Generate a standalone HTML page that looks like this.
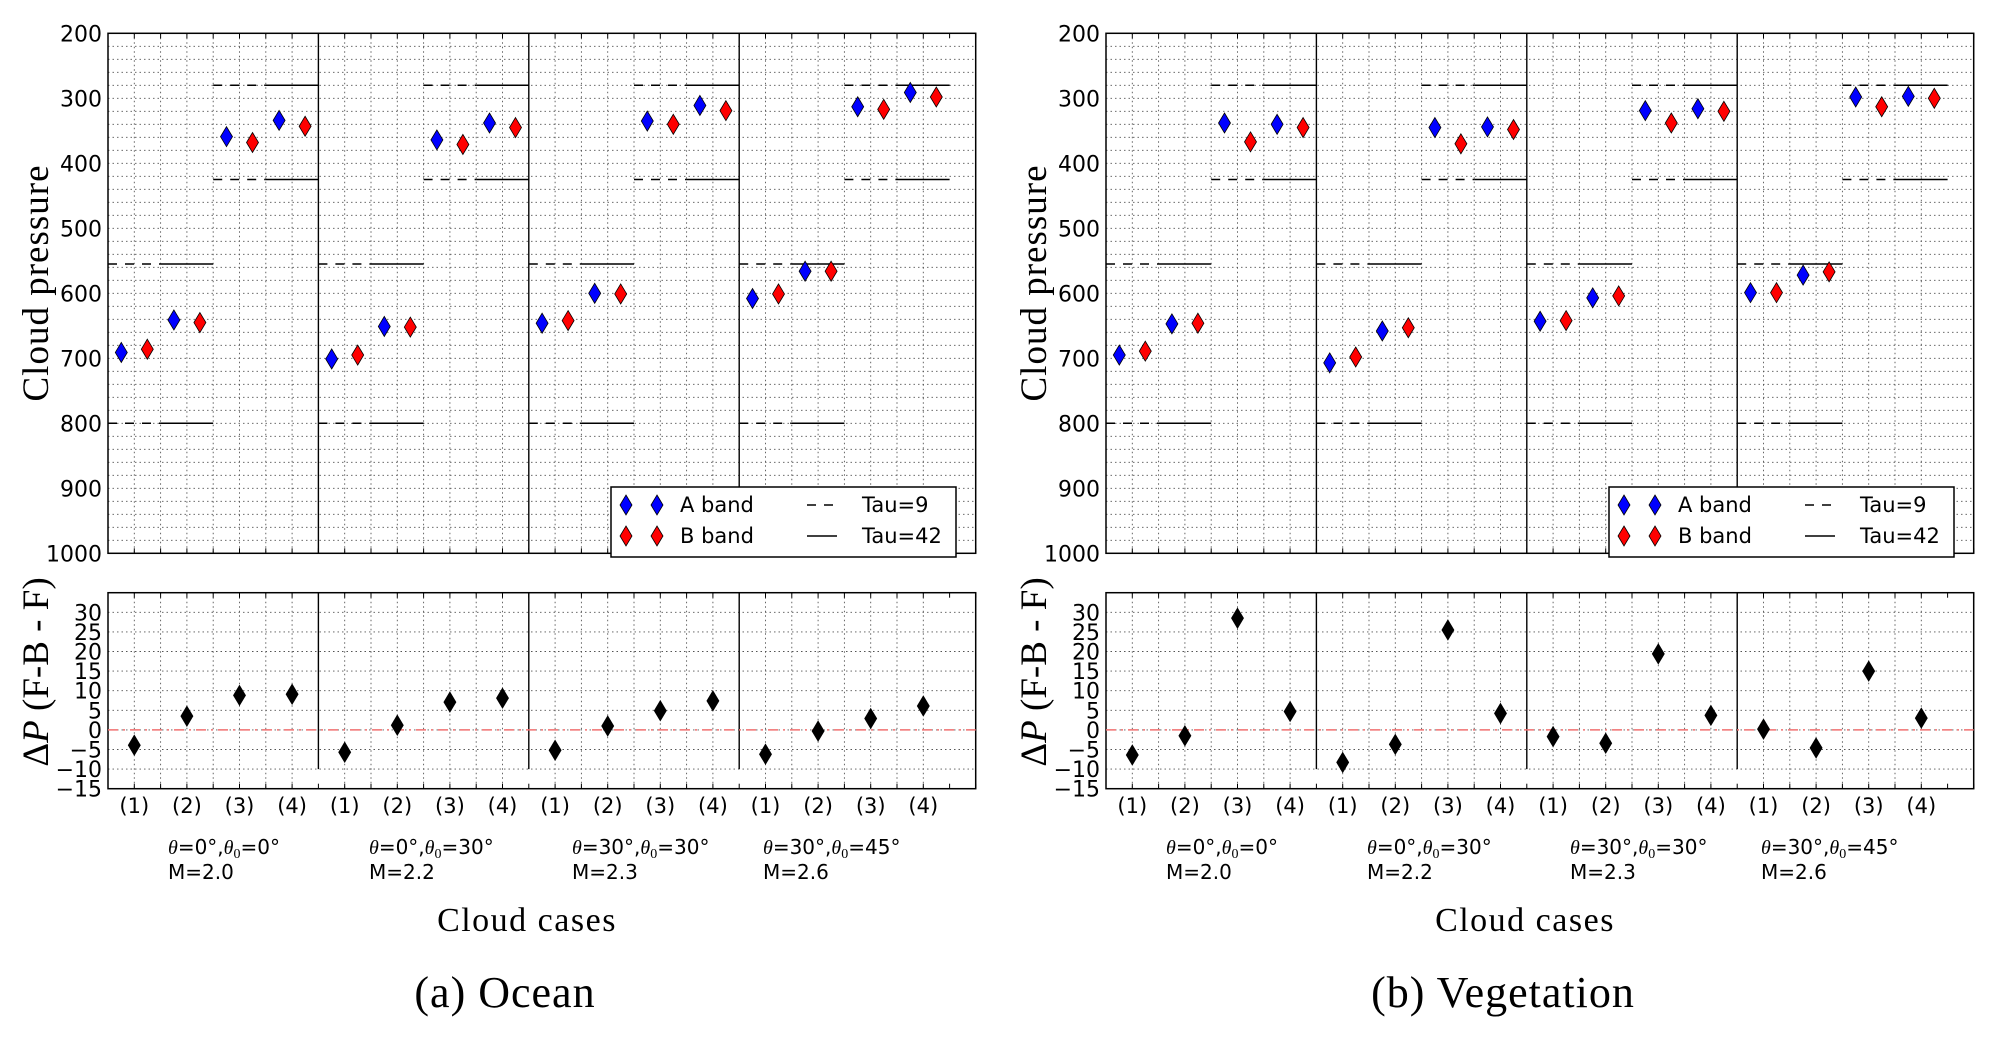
<!DOCTYPE html>
<html><head><meta charset="utf-8"><style>
html,body{margin:0;padding:0;background:#fff;}
svg{display:block;}
text{font-family:"DejaVu Sans","Liberation Sans",sans-serif;}
.serif{font-family:"Liberation Serif","DejaVu Serif",serif;}
</style></head><body>
<svg id="fig" width="1998" height="1037" viewBox="0 0 1998 1037" xmlns="http://www.w3.org/2000/svg"></svg>
<script>
// ---- data ----
const caseLabels = ["(1)","(2)","(3)","(4)"];
const groupTheta = ["0°","0°","30°","30°"];
const groupTheta0 = ["0°","30°","30°","45°"];
const groupLine2 = ["M=2.0","M=2.2","M=2.3","M=2.6"];
const pressureTicks = [200,300,400,500,600,700,800,900,1000];
const deltaTicks = [-15,-10,-5,0,5,10,15,20,25,30];
const tau9 = [555,800,280,425];
const tau42 = [555,800,280,425];
const oceanA = [691,641,359,334, 701,651,364,338, 646,600,335,311, 608,566,313,291];
const oceanB = [686,645,368,343, 695,652,371,345, 642,601,340,319, 601,566,317,298];
const oceanD = [-3.9,3.5,8.8,9.1, -5.7,1.2,7.1,8.1, -5.2,1.0,4.9,7.4, -6.2,-0.3,2.9,6.1];
const vegA = [695,647,338,340, 707,658,345,344, 643,607,319,316, 599,572,298,297];
const vegB = [689,646,367,345, 698,653,370,348, 642,604,338,320, 599,567,313,300];
const vegD = [-6.4,-1.5,28.5,4.7, -8.3,-3.7,25.5,4.2, -1.7,-3.4,19.4,3.7, 0.2,-4.6,15.0,3.0];
const panelTitles = ["(a) Ocean","(b) Vegetation"];

const NS="http://www.w3.org/2000/svg";
const svg=document.getElementById('fig');
function mk(tag,attrs,parent){const e=document.createElementNS(NS,tag);for(const k in attrs)e.setAttribute(k,attrs[k]);(parent||svg).appendChild(e);return e;}

const L=108,R=975.7,XU=52.6;
const TOP1=33.3,BOT1=553.3, TOP2=592.7,BOT2=788.7;
function xs(off,x){return off+L+(x-0.5)*XU;}
function yp(v){return TOP1+(v-200)*(BOT1-TOP1)/800;}
function yd(v){return BOT2-(v+15)*(BOT2-TOP2)/50;}
function diamond(g,cx,cy,fill,name){
  const d=mk('path',{d:`M${cx},${cy-10}L${cx+6},${cy}L${cx},${cy+10}L${cx-6},${cy}Z`,fill:fill,stroke:'#000','stroke-width':0.8},g);
  
  
}

function panel(p,off,A,B,D){
  const g=mk('g',{});
  
  
  const grid=mk('g',{stroke:'#555','stroke-width':0.9,'stroke-dasharray':'1.5,3'},g);
  
  
  for(let v=220;v<1000;v+=20) mk('line',{x1:off+L,x2:off+R,y1:yp(v),y2:yp(v)},grid);
  for(let v=-10;v<35;v+=5) mk('line',{x1:off+L,x2:off+R,y1:yd(v),y2:yd(v)},grid);
  for(let x=1;x<=16.5;x+=0.5){
    if((x-0.5)%4===0) continue;
    mk('line',{x1:xs(off,x),x2:xs(off,x),y1:TOP1,y2:BOT1},grid);
    mk('line',{x1:xs(off,x),x2:xs(off,x),y1:TOP2,y2:BOT2},grid);
  }
  const f1=mk('rect',{x:off+L,y:TOP1,width:R-L,height:BOT1-TOP1,fill:'none',stroke:'#000','stroke-width':1.5},g);
  
  
  const f2=mk('rect',{x:off+L,y:TOP2,width:R-L,height:BOT2-TOP2,fill:'none',stroke:'#000','stroke-width':1.5},g);
  
  
  for(let k=1;k<4;k++){
    const x=xs(off,4*k+0.5);
    const s1=mk('line',{x1:x,x2:x,y1:TOP1,y2:BOT1,stroke:'#000','stroke-width':1.4},g);
    
    
    const s2=mk('line',{x1:x,x2:x,y1:TOP2,y2:yd(-10),stroke:'#000','stroke-width':1.4},g);
    
    
  }
  for(let x=1;x<=17;x+=0.5){
    const X=xs(off,x);
    [[TOP1,5],[BOT1,-5],[TOP2,5],[BOT2,-5]].forEach(([y,d])=>mk('line',{x1:X,x2:X,y1:y,y2:y+d,stroke:'#000','stroke-width':1},g));
  }
  for(let k=0;k<4;k++){
    const b=4*k;
    [[0.5,2.5,0],[2.5,4.5,2]].forEach(([a,c,i])=>{
      [tau9[i],tau9[i+1]].forEach(v=>{
        const l=mk('line',{x1:xs(off,b+a),x2:xs(off,b+a+1),y1:yp(v),y2:yp(v),stroke:'#000','stroke-width':1.5,'stroke-dasharray':'9,8'},g);
        
        
      });
      [tau42[i],tau42[i+1]].forEach(v=>{
        const l=mk('line',{x1:xs(off,b+a+1),x2:xs(off,b+c),y1:yp(v),y2:yp(v),stroke:'#000','stroke-width':1.5},g);
        
        
      });
    });
  }
  const z=mk('line',{x1:off+L,x2:off+R,y1:yd(0),y2:yd(0),stroke:'#f07070','stroke-width':1.5,'stroke-dasharray':'10,5,2,5'},g);
  
  
  for(let i=0;i<16;i++){
    diamond(g,xs(off,i+1)-13,yp(A[i]),'#0000ff','a-band-point');
    diamond(g,xs(off,i+1)+13,yp(B[i]),'#ff0000','b-band-point');
    diamond(g,xs(off,i+1),yd(D[i]),'#000','delta-point');
  }
  pressureTicks.forEach(v=>{
    const t=mk('text',{x:off+102,y:yp(v)+8,'text-anchor':'end','font-size':22},g);t.textContent=v;
    
    
  });
  deltaTicks.forEach(v=>{
    const t=mk('text',{x:off+102,y:yd(v)+8,'text-anchor':'end','font-size':22},g);t.textContent=(v<0?'−':'')+Math.abs(v);
    
    
  });
  for(let i=0;i<16;i++){
    const t=mk('text',{x:xs(off,i+1),y:813,'text-anchor':'middle','font-size':21},g);t.textContent=caseLabels[i%4];
    
    
  }
  const gx=[168,369,572,763];
  for(let k=0;k<4;k++){
    const t1=mk('text',{x:off+gx[k],y:854,'font-size':20},g);
    t1.innerHTML=`<tspan class="serif" font-style="italic">θ</tspan>=${groupTheta[k]},<tspan class="serif" font-style="italic">θ</tspan><tspan font-size="14" dy="4" class="serif">0</tspan><tspan dy="-4">=${groupTheta0[k]}</tspan>`;
    
    
    const t2=mk('text',{x:off+gx[k],y:879,'font-size':20},g);t2.textContent=groupLine2[k];
    
    
  }
  const xl=mk('text',{x:off+527,y:931,'text-anchor':'middle','font-size':34,'letter-spacing':'1.5',class:'serif'},g);xl.textContent='Cloud cases';
  
  
  const yl=mk('text',{x:0,y:0,'text-anchor':'middle','font-size':37,'letter-spacing':'1',class:'serif',transform:`translate(${off+48},283) rotate(-90)`},g);yl.textContent='Cloud pressure';
  
  
  const y2=mk('text',{x:0,y:0,'text-anchor':'middle','font-size':37,class:'serif',transform:`translate(${off+48},672) rotate(-90)`},g);
  y2.innerHTML='Δ<tspan font-style="italic">P</tspan> (F-B - F)';
  
  
  const pt=mk('text',{x:off+505,y:1007,'text-anchor':'middle','font-size':44,'letter-spacing':'1',class:'serif'},g);pt.textContent=panelTitles[p];
  
  
  const lg=mk('g',{},g);
  
  
  mk('rect',{x:off+611,y:487,width:345,height:70,fill:'#fff',stroke:'#000','stroke-width':1.5},lg);
  diamond(lg,off+626,505,'#0000ff','legend-a-marker');diamond(lg,off+657,505,'#0000ff','legend-a-marker');
  diamond(lg,off+626,536,'#ff0000','legend-b-marker');diamond(lg,off+657,536,'#ff0000','legend-b-marker');
  mk('line',{x1:off+807,x2:off+837,y1:505,y2:505,stroke:'#000','stroke-width':1.5,'stroke-dasharray':'9,8'},lg);
  mk('line',{x1:off+807,x2:off+837,y1:536,y2:536,stroke:'#000','stroke-width':1.5},lg);
  [['A band',680,512],['B band',680,543],['Tau=9',862,512],['Tau=42',862,543]].forEach(([s,x,y])=>{
    const t=mk('text',{x:off+x,y:y,'font-size':21},lg);t.textContent=s;
    
    
  });
}
panel(0,0,oceanA,oceanB,oceanD);
panel(1,998,vegA,vegB,vegD);
</script>
</body></html>
